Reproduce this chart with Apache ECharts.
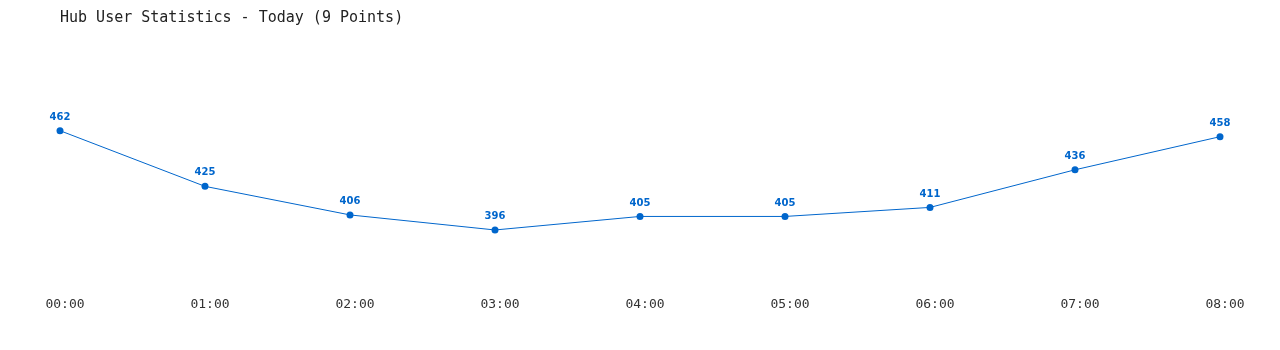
<!DOCTYPE html>
<html><head><meta charset="utf-8">
<script src="https://cdn.jsdelivr.net/npm/echarts@6/dist/echarts.min.js"></script>
<style>html,body{margin:0;padding:0;background:#fff}#c{width:1280px;height:350px}</style>
</head><body><div id="c"></div>
<script>
var categories = ["00:00","01:00","02:00","03:00","04:00","05:00","06:00","07:00","08:00"];
var users = [462,425,406,396,405,405,411,436,458];
var titleText = "Hub User Statistics - Today (9 Points)";

var chart = echarts.init(document.getElementById('c'));
chart.setOption({
  animation: false,
  title: {
    text: titleText, left: 55, top: 6,
    textStyle: {fontFamily: 'DejaVu Sans Mono', fontSize: 15, fontWeight: 'normal', color: '#222'}
  },
  grid: {left: 60, right: 60, top: 73.5, bottom: 80.9},
  xAxis: {
    type: 'category', data: categories, boundaryGap: false,
    axisLine: {show: false}, axisTick: {show: false}, splitLine: {show: false},
    axisLabel: {fontFamily: 'DejaVu Sans Mono', fontSize: 13, color: '#333', margin: 29, padding: [0,0,0,10]}
  },
  yAxis: {
    type: 'value', min: 370, max: 500, show: false, splitLine: {show: false}
  },
  series: [{
    type: 'line', data: users,
    symbol: 'circle', symbolSize: 7,
    lineStyle: {color: '#0066cc', width: 1},
    itemStyle: {color: '#0066cc'},
    label: {show: true, position: 'top', distance: 5, color: '#0066cc',
      fontFamily: 'DejaVu Sans', fontWeight: 'bold', fontSize: 10}
  }]
});
</script></body></html>
